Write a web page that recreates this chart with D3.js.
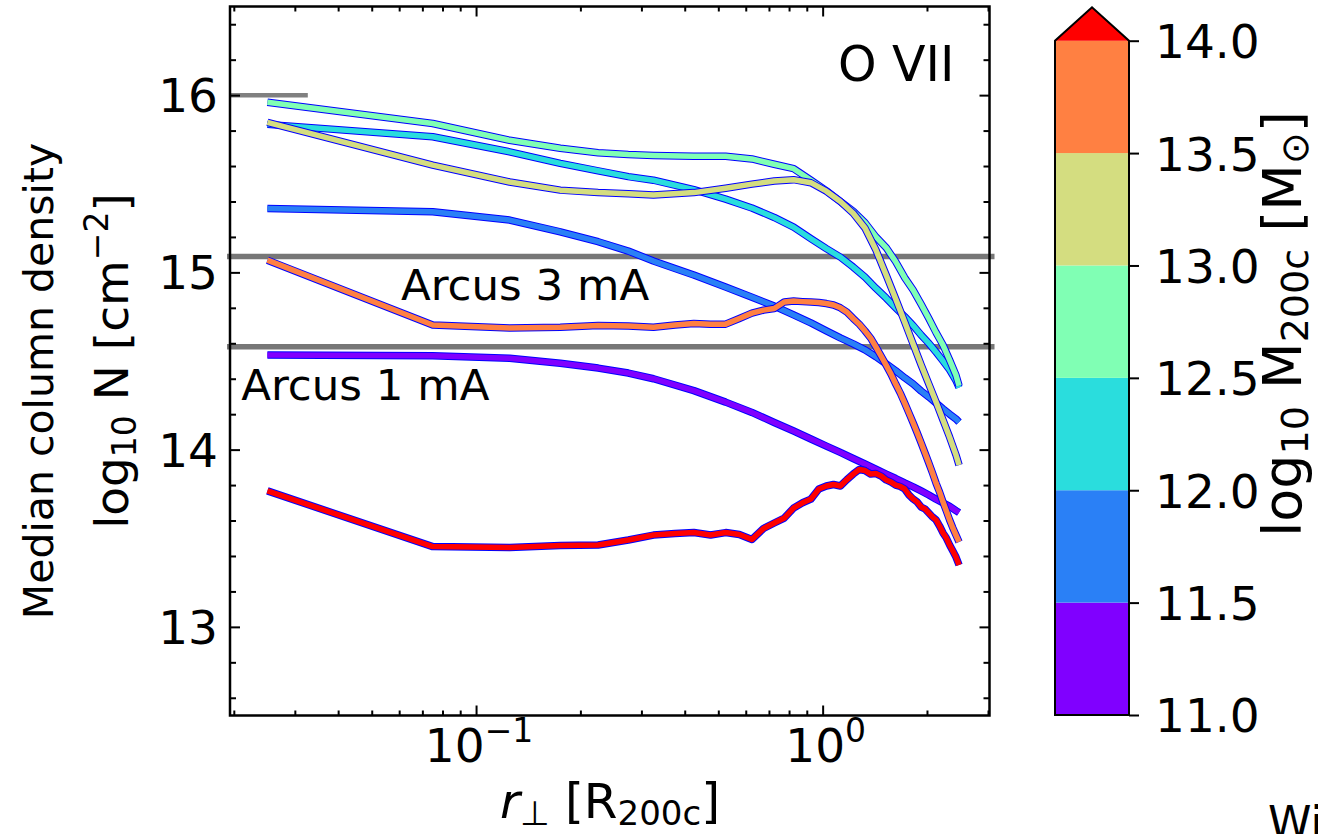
<!DOCTYPE html>
<html>
<head>
<meta charset="utf-8">
<script src="https://cdn.jsdelivr.net/npm/d3@7"></script>
<style>
  body { margin: 0; background: #fff; }
  text { font-family: 'DejaVu Sans', sans-serif; fill: #000; }
</style>
</head>
<body>
<svg id="chart" width="1318" height="834"></svg>
<script>
// radial bins (R200c), 0.05 wide
const radiusFine = [0.025, 0.075, 0.125, 0.175, 0.225, 0.275, 0.325, 0.375, 0.425, 0.475,
  0.525, 0.575, 0.625, 0.675, 0.725, 0.775, 0.825, 0.875, 0.925, 0.975,
  1.025, 1.075, 1.125, 1.175, 1.225, 1.275, 1.325, 1.375, 1.425, 1.475,
  1.525, 1.575, 1.625, 1.675, 1.725, 1.775, 1.825, 1.875, 1.925, 1.975,
  2.025, 2.075, 2.125, 2.175, 2.225, 2.275, 2.325, 2.375, 2.425, 2.475];
const radiusCoarse = [0.025, 0.075, 0.125, 0.175, 0.225, 0.275, 0.325, 0.425, 0.525, 0.625,
  0.725, 0.825, 0.925, 1.025, 1.125, 1.225, 1.325, 1.425, 1.525, 1.625,
  1.725, 1.825, 1.925, 2.025, 2.125, 2.225, 2.325, 2.425, 2.475];

// log10 N per mass bin
const n11_0 = [14.534, 14.53, 14.515, 14.487, 14.46, 14.432, 14.40, 14.333, 14.268, 14.21,
  14.153, 14.105, 14.06, 14.02, 13.984, 13.95, 13.919, 13.89, 13.862, 13.837,
  13.812, 13.79, 13.767, 13.744, 13.72, 13.70, 13.68, 13.656, 13.645];
const n11_5 = [15.36, 15.342, 15.295, 15.229, 15.173, 15.12, 15.064, 14.985, 14.917, 14.86,
  14.81, 14.76, 14.715, 14.67, 14.63, 14.597, 14.563, 14.524, 14.484, 14.445,
  14.405, 14.37, 14.33, 14.297, 14.263, 14.23, 14.20, 14.173, 14.155];
const n12_0 = [15.835, 15.765, 15.68, 15.615, 15.573, 15.54, 15.52, 15.467, 15.413, 15.363,
  15.31, 15.255, 15.19, 15.134, 15.086, 15.03, 14.973, 14.91, 14.855, 14.80,
  14.75, 14.70, 14.646, 14.60, 14.55, 14.50, 14.45, 14.39, 14.35];
const n12_5 = [15.96, 15.84, 15.745, 15.70, 15.675, 15.665, 15.66, 15.655, 15.655, 15.64,
  15.61, 15.585, 15.52, 15.46, 15.40, 15.345, 15.28, 15.20, 15.14, 15.06,
  14.97, 14.90, 14.82, 14.74, 14.66, 14.59, 14.505, 14.42, 14.36];
const n13_0 = [15.846, 15.605, 15.51, 15.464, 15.45, 15.444, 15.436, 15.45, 15.475, 15.498,
  15.515, 15.523, 15.506, 15.458, 15.40, 15.334, 15.25, 15.126, 14.985, 14.85,
  14.72, 14.595, 14.477, 14.37, 14.268, 14.167, 14.07, 13.97, 13.913];
const n13_5 = [15.069, 14.703, 14.686, 14.69, 14.70, 14.697, 14.69, 14.703, 14.711, 14.708,
  14.708, 14.74, 14.77, 14.787, 14.796, 14.833, 14.838, 14.835, 14.833, 14.83,
  14.824, 14.816, 14.80, 14.776, 14.74, 14.708, 14.67, 14.63, 14.579, 14.528,
  14.477, 14.426, 14.37, 14.319, 14.263, 14.206, 14.15, 14.094, 14.037, 13.98,
  13.924, 13.868, 13.81, 13.76, 13.704, 13.654, 13.603, 13.558, 13.518, 13.479];
const n14_0 = [13.767, 13.453, 13.448, 13.459, 13.462, 13.49, 13.518, 13.527, 13.532, 13.518,
  13.532, 13.521, 13.493, 13.555, 13.586, 13.614, 13.671, 13.70, 13.721, 13.778,
  13.795, 13.803, 13.795, 13.831, 13.862, 13.888, 13.882, 13.862, 13.865, 13.851,
  13.829, 13.817, 13.80, 13.792, 13.778, 13.744, 13.721, 13.704, 13.676, 13.665,
  13.642, 13.62, 13.603, 13.569, 13.53, 13.501, 13.462, 13.428, 13.394, 13.349];

const binColors = ['#8000ff', '#2a80f6', '#2adddd', '#80ffb4', '#d4dd80', '#ff8042', '#ff0000'];
const colorTicks = [11.0, 11.5, 12.0, 12.5, 13.0, 13.5, 14.0];

const yTicks = [13, 14, 15, 16];
const arcusLevels = [15.09, 14.58];
const arcusLabels = ['Arcus 3 mA', 'Arcus 1 mA'];
const arcusLabelPos = [[0.0607, 14.845], [0.021, 14.28]];
const refSegment = [[0.0195, 16.0], [0.0327, 16.0]];

const series = [
  { r: radiusCoarse, n: n11_0 },
  { r: radiusCoarse, n: n11_5 },
  { r: radiusCoarse, n: n12_0 },
  { r: radiusCoarse, n: n12_5 },
  { r: radiusCoarse, n: n13_0 },
  { r: radiusFine, n: n13_5 },
  { r: radiusFine, n: n14_0 }
];

const svg = d3.select('#chart');
const pL = 230, pR = 989.5, pT = 6.5, pB = 715.5;

const xScale = d3.scaleLog().domain([0.0195, 3.03]).range([pL, pR]);
const yScale = d3.scaleLinear().domain([12.5, 16.5]).range([pB, pT]);

// reference lines
const plot = svg.append('g');
plot.append('line')
  .attr('x1', xScale(refSegment[0][0])).attr('x2', xScale(refSegment[1][0]))
  .attr('y1', yScale(refSegment[0][1])).attr('y2', yScale(refSegment[1][1]))
  .attr('stroke', '#808080').attr('stroke-width', 4.5);

arcusLevels.forEach(v => {
  plot.append('line')
    .attr('x1', pL - 3).attr('x2', pR + 5)
    .attr('y1', yScale(v)).attr('y2', yScale(v))
    .attr('stroke', '#777').attr('stroke-width', 5.5);
});

// profiles
const line = d3.line().x(d => xScale(d[0])).y(d => yScale(d[1]));
series.forEach((s, i) => {
  const pts = s.r.map((r, j) => [r, s.n[j]]);
  plot.append('path').attr('d', line(pts))
    .attr('fill', 'none').attr('stroke', '#0000ff').attr('stroke-width', 7.5)
    .attr('stroke-linejoin', 'round');
  plot.append('path').attr('d', line(pts))
    .attr('fill', 'none').attr('stroke', binColors[i]).attr('stroke-width', 5.5)
    .attr('stroke-linejoin', 'round');
});

arcusLabels.forEach((t, i) => {
  svg.append('text')
    .attr('x', xScale(arcusLabelPos[i][0])).attr('y', yScale(arcusLabelPos[i][1]))
    .attr('font-size', 43.5).text(t);
});

svg.append('text').attr('x', pR - 35).attr('y', 81)
  .attr('text-anchor', 'end').attr('font-size', 49).text('O VII');

// axes (ticks inward on all sides)
const xMajor = [0.1, 1];
const xMinor = [0.02, 0.03, 0.04, 0.05, 0.06, 0.07, 0.08, 0.09, 0.2, 0.3, 0.4, 0.5, 0.6, 0.7, 0.8, 0.9, 2, 3];
const yMinor = d3.range(12.6, 16.5, 0.2).filter(v => Math.abs(v - Math.round(v)) > 0.01);

function addAxis(axisFn, scale, vals, size, tx, ty) {
  const g = svg.append('g').attr('transform', `translate(${tx},${ty})`)
    .call(axisFn(scale).tickValues(vals).tickSize(-size).tickFormat(''));
  g.select('.domain').remove();
  g.selectAll('line').attr('stroke', '#000').attr('stroke-width', 2);
  return g;
}
addAxis(d3.axisBottom, xScale, xMajor, 10, 0, pB);
addAxis(d3.axisBottom, xScale, xMinor, 5, 0, pB);
addAxis(d3.axisTop, xScale, xMajor, 10, 0, pT);
addAxis(d3.axisTop, xScale, xMinor, 5, 0, pT);
addAxis(d3.axisLeft, yScale, yTicks, 10, pL, 0);
addAxis(d3.axisLeft, yScale, yMinor, 6, pL, 0);
addAxis(d3.axisRight, yScale, yTicks, 10, pR, 0);
addAxis(d3.axisRight, yScale, yMinor, 6, pR, 0);

svg.append('rect').attr('x', pL).attr('y', pT)
  .attr('width', pR - pL).attr('height', pB - pT)
  .attr('fill', 'none').attr('stroke', '#000').attr('stroke-width', 2.5);

// tick labels
svg.append('g').selectAll('text').data(yTicks).join('text')
  .attr('x', pL - 12).attr('y', d => yScale(d)).attr('dy', '0.36em')
  .attr('text-anchor', 'end').attr('font-size', 47).text(d => d);

const xl = svg.append('g').selectAll('text').data(xMajor).join('text')
  .attr('x', d => xScale(d) + 3).attr('y', 762)
  .attr('text-anchor', 'middle').attr('font-size', 47);
xl.append('tspan').text('10');
xl.append('tspan').attr('dy', -20).attr('font-size', 33).text(d => d === 1 ? '0' : '\u22121');

// axis labels
const xlab = svg.append('text').attr('x', 610).attr('y', 818)
  .attr('text-anchor', 'middle').attr('font-size', 48.5);
xlab.append('tspan').attr('font-style', 'italic').text('r');
xlab.append('tspan').attr('dy', 7).attr('font-size', 34).text('\u22a5');
xlab.append('tspan').attr('dy', -7).text(' [R');
xlab.append('tspan').attr('dy', 7).attr('font-size', 34).text('200c');
xlab.append('tspan').attr('dy', -7).text(']');

svg.append('text').attr('transform', 'translate(53,381) rotate(-90)')
  .attr('text-anchor', 'middle').attr('font-size', 41).text('Median column density');

const ylab = svg.append('text').attr('transform', 'translate(128,361) rotate(-90)')
  .attr('text-anchor', 'middle').attr('font-size', 47);
ylab.append('tspan').text('log');
ylab.append('tspan').attr('dy', 8).attr('font-size', 33).text('10');
ylab.append('tspan').attr('dy', -8).text(' N [cm');
ylab.append('tspan').attr('dy', -20).attr('font-size', 33).text('\u22122');
ylab.append('tspan').attr('dy', 20).text(']');

// colorbar
const cbLeft = 1055, cbRight = 1129;
const cScale = d3.scaleLinear().domain([11, 14]).range([715, 40.7]);
const cb = svg.append('g');
cb.selectAll('rect').data(colorTicks.slice(0, -1)).join('rect')
  .attr('x', cbLeft).attr('width', cbRight - cbLeft)
  .attr('y', (d, i) => cScale(colorTicks[i + 1]))
  .attr('height', (d, i) => cScale(colorTicks[i]) - cScale(colorTicks[i + 1]))
  .attr('fill', (d, i) => binColors[i]);
const tipH = 33.4;
const ext = [[cbLeft, cScale(14)], [(cbLeft + cbRight) / 2, cScale(14) - tipH], [cbRight, cScale(14)]];
cb.append('path').attr('d', d3.line()(ext) + 'Z').attr('fill', binColors[6]);
cb.append('path')
  .attr('d', d3.line()([[cbLeft, cScale(11)], ...ext, [cbRight, cScale(11)]]) + 'Z')
  .attr('fill', 'none').attr('stroke', '#000').attr('stroke-width', 2);

const cAxis = svg.append('g').attr('transform', `translate(${cbRight},0)`)
  .call(d3.axisRight(cScale).tickValues(colorTicks).tickSize(10).tickPadding(16).tickFormat(d3.format('.1f')));
cAxis.select('.domain').remove();
cAxis.selectAll('line').attr('stroke', '#000').attr('stroke-width', 2);
cAxis.selectAll('text').attr('font-size', 47).attr('font-family', "'DejaVu Sans', sans-serif").attr('dy', '0.36em');

const clab = svg.append('text').attr('transform', 'translate(1301,324) rotate(-90)')
  .attr('text-anchor', 'middle').attr('font-size', 54);
clab.append('tspan').text('log');
clab.append('tspan').attr('dy', 7).attr('font-size', 38).text('10');
clab.append('tspan').attr('dy', -7).text(' M');
clab.append('tspan').attr('dy', 7).attr('font-size', 38).text('200c');
clab.append('tspan').attr('dy', -7).text(' [M');
clab.append('tspan').attr('dy', 7).attr('font-size', 38).text('\u2299');
clab.append('tspan').attr('dy', -7).text(']');

svg.append('text').attr('x', 1268).attr('y', 838).attr('font-size', 44).text('Wi');
</script>
</body>
</html>
